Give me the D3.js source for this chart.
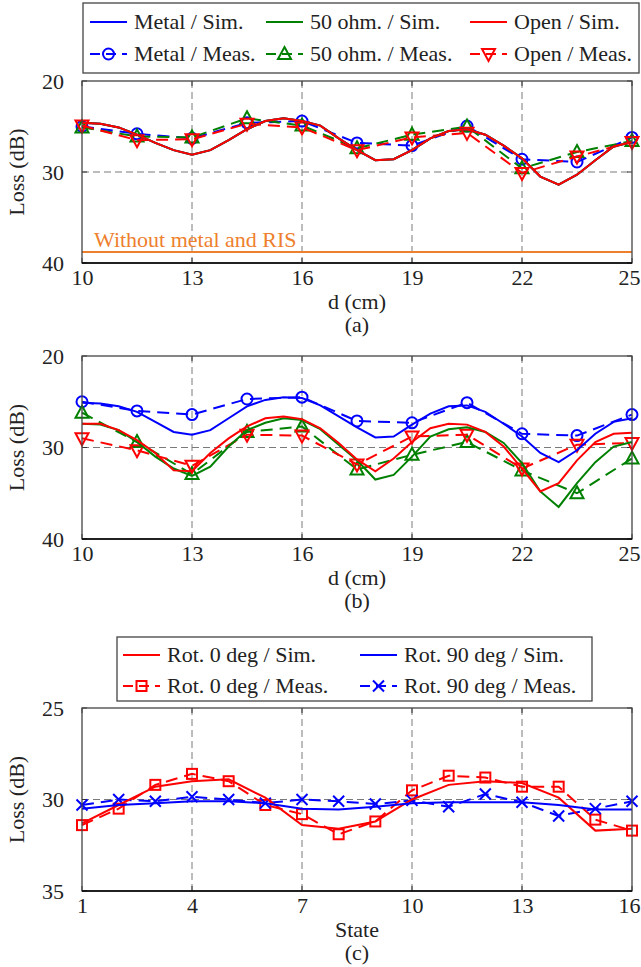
<!DOCTYPE html>
<html>
<head>
<meta charset="utf-8">
<script src="https://cdn.jsdelivr.net/npm/d3@7/dist/d3.min.js"></script>
<style>
  body { margin: 0; background: #fff; }
</style>
</head>
<body>
<div id="chart"></div>
<script>
// d positions (cm)
const dSim = [10, 10.5, 11, 11.5, 12, 12.5, 13, 13.5, 14, 14.5, 15, 15.5, 16, 16.5, 17, 17.5,
  18, 18.5, 19, 19.5, 20, 20.5, 21, 21.5, 22, 22.5, 23, 23.5, 24, 24.5, 25];
const dMeas = [10, 11.5, 13, 14.5, 16, 17.5, 19, 20.5, 22, 23.5, 25];
const dTicks = [10, 13, 16, 19, 22, 25];

// (a)
const aSimMetal = [24.6, 24.7, 25.1, 25.9, 26.8, 27.6, 28.1, 27.6, 26.5, 25.3, 24.4, 24.1, 24.4, 24.9, 26.3, 27.6,
  28.7, 28.6, 27.6, 26.3, 25.5, 25.3, 25.9, 27.1, 28.5, 30.5, 31.4, 30.3, 28.7, 27.2, 26.7];
const aSim50 = [24.6, 24.7, 25.1, 25.9, 26.8, 27.6, 28.1, 27.6, 26.5, 25.3, 24.4, 24.1, 24.4, 24.9, 26.3, 27.6,
  28.7, 28.6, 27.6, 26.3, 25.5, 25.3, 25.9, 27.1, 28.5, 30.5, 31.4, 30.3, 28.7, 27.2, 26.7];
const aSimOpen = [24.6, 24.7, 25.1, 25.9, 26.8, 27.6, 28.1, 27.6, 26.5, 25.3, 24.4, 24.1, 24.4, 24.9, 26.3, 27.6,
  28.7, 28.6, 27.6, 26.3, 25.5, 25.3, 25.9, 27.1, 28.5, 30.5, 31.4, 30.3, 28.7, 27.2, 26.7];
const aMeasMetal = [25.0, 25.8, 26.3, 24.6, 24.4, 26.8, 27.1, 24.95, 28.6, 28.9, 26.2];
const aMeas50 = [25.1, 26.1, 26.2, 24.1, 24.9, 27.4, 25.9, 25.0, 29.6, 27.8, 26.6];
const aMeasOpen = [24.9, 26.5, 26.4, 24.7, 25.1, 27.6, 26.2, 25.7, 30.1, 28.3, 26.7];
const noRisLoss = 38.8;

// (b)
const bSimMetal = [25.1, 25.2, 25.5, 26.1, 27.2, 28.3, 28.6, 28.1, 26.8, 25.5, 24.8, 24.5, 24.6, 25.4, 26.6, 27.8,
  28.9, 28.8, 27.5, 26.3, 25.5, 25.4, 26.1, 27.4, 28.8, 30.6, 31.6, 30.3, 28.5, 27.2, 26.8];
const bSim50 = [27.4, 27.5, 28.1, 29.4, 31.0, 32.3, 33.1, 32.1, 29.9, 28.1, 27.3, 26.8, 27.0, 28.0, 29.7, 31.4,
  33.5, 33.0, 31.0, 28.8, 28.0, 27.8, 28.3, 29.5, 31.7, 34.8, 36.5, 33.9, 31.6, 29.9, 29.4];
const bSimOpen = [27.4, 27.4, 28.1, 29.2, 30.6, 32.5, 32.6, 30.6, 29.0, 27.7, 26.8, 26.6, 26.9, 27.9, 29.5, 31.3,
  32.6, 31.2, 29.4, 27.9, 27.4, 27.5, 28.3, 29.9, 32.3, 34.8, 33.9, 31.4, 29.4, 28.5, 28.4];
const bMeasMetal = [25.0, 26.0, 26.4, 24.7, 24.5, 27.1, 27.3, 25.1, 28.5, 28.7, 26.4];
const bMeas50 = [26.2, 29.4, 32.9, 28.3, 27.7, 32.4, 30.8, 29.4, 32.5, 35.0, 31.2];
const bMeasOpen = [29.0, 30.3, 32.0, 28.6, 28.7, 31.85, 28.8, 28.6, 32.3, 29.7, 29.5];

// (c)
const states = [1, 2, 3, 4, 5, 6, 7, 8, 9, 10, 11, 12, 13, 14, 15, 16];
const stateTicks = [1, 4, 7, 10, 13, 16];
const cSim0 = [31.3, 30.3, 29.3, 29.0, 28.9, 29.9, 31.4, 31.6, 31.2, 30.0, 29.2, 29.0, 29.1, 29.9, 31.7, 31.6];
const cMeas0 = [31.4, 30.5, 29.2, 28.6, 29.0, 30.3, 30.8, 31.9, 31.2, 29.5, 28.7, 28.8, 29.3, 29.3, 31.1, 31.7];
const cSim90 = [30.5, 30.3, 30.2, 30.1, 30.1, 30.2, 30.5, 30.55, 30.4, 30.2, 30.15, 30.15, 30.15, 30.3, 30.55, 30.55];
const cMeas90 = [30.3, 30.0, 30.1, 29.85, 30.0, 30.2, 30.0, 30.1, 30.25, 30.05, 30.4, 29.7, 30.15, 30.9, 30.5, 30.1];

const W = 641, H = 967;
const FS = 22;
const FONT = '"Liberation Serif", "DejaVu Serif", "Noto Serif", "FreeSerif", "Nimbus Roman", "Times New Roman", Times, serif';
const TXT = '#222';
const BLUE = '#0000ff', GREEN = '#008000', RED = '#ff0000', ORANGE = '#ee7f2d';
const MEAS_DASH = '12,7';

const svg = d3.select('#chart').append('svg')
  .attr('width', W).attr('height', H);

function label(g, x, y, str, anchor) {
  return g.append('text').attr('x', x).attr('y', y)
    .attr('text-anchor', anchor || 'start').attr('dy', '0.33em')
    .attr('font-family', FONT).attr('font-size', FS).attr('fill', TXT)
    .text(str);
}

function marker(g, type, x, y, color) {
  const s = 6;
  if (type === 'circle') {
    g.append('circle').attr('cx', x).attr('cy', y).attr('r', 5.5)
      .attr('fill', 'none').attr('stroke', color).attr('stroke-width', 2);
  } else if (type === 'up') {
    g.append('path').attr('d', `M${x},${y - s - 1}L${x + s + 0.5},${y + s - 1}L${x - s - 0.5},${y + s - 1}Z`)
      .attr('fill', 'none').attr('stroke', color).attr('stroke-width', 2);
  } else if (type === 'down') {
    g.append('path').attr('d', `M${x},${y + s + 1}L${x + s + 0.5},${y - s + 1}L${x - s - 0.5},${y - s + 1}Z`)
      .attr('fill', 'none').attr('stroke', color).attr('stroke-width', 2);
  } else if (type === 'square') {
    g.append('rect').attr('x', x - 5).attr('y', y - 5).attr('width', 10).attr('height', 10)
      .attr('fill', 'none').attr('stroke', color).attr('stroke-width', 2);
  } else if (type === 'x') {
    g.append('path').attr('d', `M${x - 5.5},${y - 5.5}L${x + 5.5},${y + 5.5}M${x - 5.5},${y + 5.5}L${x + 5.5},${y - 5.5}`)
      .attr('stroke', color).attr('stroke-width', 2);
  }
}

function panel(opt) {
  const x = d3.scaleLinear().domain(opt.xDomain).range([82, 632]);
  const y = d3.scaleLinear().domain(opt.yDomain).range([opt.top, opt.bottom]);
  const g = svg.append('g');

  // grid (inner only)
  g.selectAll('.vg').data(opt.xTicks.slice(1, -1)).enter().append('line')
    .attr('x1', d => x(d)).attr('x2', d => x(d))
    .attr('y1', opt.top).attr('y2', opt.bottom)
    .attr('stroke', '#7a7a7a').attr('stroke-width', 1).attr('stroke-dasharray', '7,4');
  g.selectAll('.hg').data(opt.yTicks.slice(1, -1)).enter().append('line')
    .attr('x1', 82).attr('x2', 632)
    .attr('y1', d => y(d)).attr('y2', d => y(d))
    .attr('stroke', '#7a7a7a').attr('stroke-width', 1).attr('stroke-dasharray', '7,4');

  // axes
  const ax = d3.axisBottom(x).tickValues(opt.xTicks).tickSize(0).tickPadding(6).tickFormat(d3.format('d'));
  const ay = d3.axisLeft(y).tickValues(opt.yTicks).tickSize(0).tickPadding(18).tickFormat(d3.format('d'));
  const gx = g.append('g').attr('transform', `translate(0,${opt.bottom})`).call(ax);
  const gy = g.append('g').attr('transform', 'translate(82,0)').call(ay);
  [gx, gy].forEach(a => {
    a.select('.domain').remove();
    a.attr('font-family', FONT).attr('font-size', FS);
    a.selectAll('text').attr('fill', TXT);
  });
  gy.selectAll('text').attr('dy', '0.33em');
  gx.selectAll('text').attr('dy', '0.71em')
    .attr('dx', (d, i, n) => i === n.length - 1 ? -3 : 0);

  // inner tick marks on all sides
  opt.xTicks.forEach(t => {
    g.append('line').attr('x1', x(t)).attr('x2', x(t)).attr('y1', opt.bottom).attr('y2', opt.bottom - 5).attr('stroke', '#333');
    g.append('line').attr('x1', x(t)).attr('x2', x(t)).attr('y1', opt.top).attr('y2', opt.top + 5).attr('stroke', '#333');
  });
  opt.yTicks.forEach(t => {
    g.append('line').attr('x1', 82).attr('x2', 87).attr('y1', y(t)).attr('y2', y(t)).attr('stroke', '#333');
    g.append('line').attr('x1', 632).attr('x2', 627).attr('y1', y(t)).attr('y2', y(t)).attr('stroke', '#333');
  });

  // extra annotation
  if (opt.extra) opt.extra(g, x, y);

  const line = d3.line().x(d => x(d[0])).y(d => y(d[1]));

  opt.meas.forEach(s => {
    const pts = s.xs.map((v, i) => [v, s.ys[i]]);
    g.append('path').datum(pts).attr('d', line)
      .attr('fill', 'none').attr('stroke', s.color).attr('stroke-width', 2)
      .attr('stroke-dasharray', MEAS_DASH);
    pts.forEach(p => marker(g, s.marker, x(p[0]), y(p[1]), s.color));
  });
  opt.sims.forEach(s => {
    const pts = s.xs.map((v, i) => [v, s.ys[i]]);
    g.append('path').datum(pts).attr('d', line)
      .attr('fill', 'none').attr('stroke', s.color).attr('stroke-width', 2);
  });

  // frame
  g.append('rect').attr('x', 82).attr('y', opt.top).attr('width', 550).attr('height', opt.bottom - opt.top)
    .attr('fill', 'none').attr('stroke', '#444').attr('stroke-width', 1.3);
  g.append('line').attr('x1', 82).attr('x2', 632).attr('y1', opt.bottom).attr('y2', opt.bottom)
    .attr('stroke', '#000').attr('stroke-width', 1.5);

  // labels
  const cy = (opt.top + opt.bottom) / 2;
  label(g, 17, cy, 'Loss (dB)', 'middle').attr('transform', `rotate(-90,17,${cy})`);
  label(g, 357, opt.bottom + 39, opt.xLabel, 'middle');
  label(g, 357, opt.bottom + 62, opt.tag, 'middle');
}

function legend(box, items) {
  const g = svg.append('g');
  g.append('rect').attr('x', box.x).attr('y', box.y).attr('width', box.w).attr('height', box.h)
    .attr('fill', '#fff').attr('stroke', '#444').attr('stroke-width', 1.3);
  items.forEach(it => {
    g.append('line').attr('x1', it.x).attr('x2', it.x + 37).attr('y1', it.y).attr('y2', it.y)
      .attr('stroke', it.color).attr('stroke-width', 2)
      .attr('stroke-dasharray', it.marker ? '10,6' : null);
    if (it.marker) marker(g, it.marker, it.x + 18.5, it.y, it.color);
    label(g, it.x + 44, it.y, it.label);
  });
}

panel({
  xDomain: [10, 25], yDomain: [20, 40], top: 81, bottom: 263,
  xTicks: dTicks, yTicks: [20, 30, 40], xLabel: 'd (cm)', tag: '(a)',
  sims: [
    {xs: dSim, ys: aSimMetal, color: BLUE},
    {xs: dSim, ys: aSim50, color: GREEN},
    {xs: dSim, ys: aSimOpen, color: RED}
  ],
  meas: [
    {xs: dMeas, ys: aMeasMetal, color: BLUE, marker: 'circle'},
    {xs: dMeas, ys: aMeas50, color: GREEN, marker: 'up'},
    {xs: dMeas, ys: aMeasOpen, color: RED, marker: 'down'}
  ],
  extra: (g, x, y) => {
    g.append('line').attr('x1', 82).attr('x2', 632).attr('y1', y(noRisLoss)).attr('y2', y(noRisLoss))
      .attr('stroke', ORANGE).attr('stroke-width', 2);
    label(g, 94, y(noRisLoss) - 12, 'Without metal and RIS').attr('fill', ORANGE);
  }
});

panel({
  xDomain: [10, 25], yDomain: [20, 40], top: 356, bottom: 539,
  xTicks: dTicks, yTicks: [20, 30, 40], xLabel: 'd (cm)', tag: '(b)',
  sims: [
    {xs: dSim, ys: bSimMetal, color: BLUE},
    {xs: dSim, ys: bSim50, color: GREEN},
    {xs: dSim, ys: bSimOpen, color: RED}
  ],
  meas: [
    {xs: dMeas, ys: bMeasMetal, color: BLUE, marker: 'circle'},
    {xs: dMeas, ys: bMeas50, color: GREEN, marker: 'up'},
    {xs: dMeas, ys: bMeasOpen, color: RED, marker: 'down'}
  ]
});

panel({
  xDomain: [1, 16], yDomain: [25, 35], top: 708, bottom: 891,
  xTicks: stateTicks, yTicks: [25, 30, 35], xLabel: 'State', tag: '(c)',
  sims: [
    {xs: states, ys: cSim0, color: RED},
    {xs: states, ys: cSim90, color: BLUE}
  ],
  meas: [
    {xs: states, ys: cMeas0, color: RED, marker: 'square'},
    {xs: states, ys: cMeas90, color: BLUE, marker: 'x'}
  ]
});

legend({x: 83, y: 3, w: 556, h: 70}, [
  {x: 90, y: 22, color: BLUE, label: 'Metal / Sim.'},
  {x: 266, y: 22, color: GREEN, label: '50 ohm. / Sim.'},
  {x: 470, y: 22, color: RED, label: 'Open / Sim.'},
  {x: 90, y: 54, color: BLUE, marker: 'circle', label: 'Metal / Meas.'},
  {x: 266, y: 54, color: GREEN, marker: 'up', label: '50 ohm. / Meas.'},
  {x: 470, y: 54, color: RED, marker: 'down', label: 'Open / Meas.'}
]);

legend({x: 117, y: 637, w: 475, h: 64}, [
  {x: 123, y: 655, color: RED, label: 'Rot. 0 deg / Sim.'},
  {x: 360, y: 655, color: BLUE, label: 'Rot. 90 deg / Sim.'},
  {x: 123, y: 686, color: RED, marker: 'square', label: 'Rot. 0 deg / Meas.'},
  {x: 360, y: 686, color: BLUE, marker: 'x', label: 'Rot. 90 deg / Meas.'}
]);
</script>
</body>
</html>
